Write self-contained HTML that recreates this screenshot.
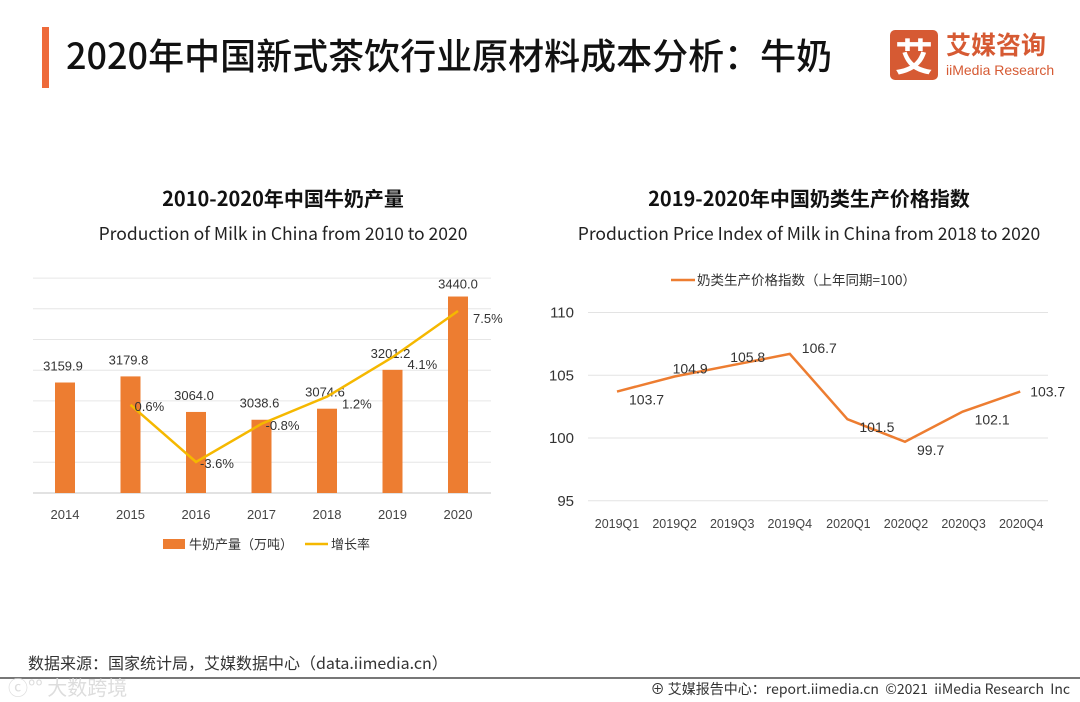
<!DOCTYPE html>
<html><head><meta charset="utf-8">
<style>
body{margin:0;width:1080px;height:702px;background:#fff;position:relative;overflow:hidden;font-family:"Liberation Sans","Noto Sans CJK SC",sans-serif;}
.abs{position:absolute;}
</style></head><body>
<div class="abs" style="left:42px;top:27px;width:7px;height:61px;background:#ee6a3a"></div>
<div class="abs" style="left:66px;top:28px;font-size:36px;font-weight:500;color:#111;font-family:'Noto Sans CJK SC',sans-serif;white-space:nowrap">2020年中国新式茶饮行业原材料成本分析：牛奶</div>
<div class="abs" style="left:890px;top:30px;width:180px;height:52px">
  <div style="position:absolute;left:0;top:0;width:48px;height:50px;background:#d65a33;border-radius:5px;color:#fff;font-size:38px;font-weight:bold;text-align:center;line-height:50px;font-family:'Noto Sans CJK SC',sans-serif">艾</div>
  <div style="position:absolute;left:56px;top:-4px;color:#d65a33;font-size:25px;font-weight:bold;font-family:'Noto Sans CJK SC',sans-serif">艾媒咨询</div>
  <div style="position:absolute;left:56px;top:32px;color:#d65a33;font-size:14px">iiMedia Research</div>
</div>

<svg class="abs" style="left:0;top:0" width="1080" height="702" font-family="Liberation Sans, Noto Sans CJK SC, sans-serif">
  <text x="283" y="206" text-anchor="middle" font-size="20" font-weight="bold" fill="#111" font-family="Noto Sans CJK SC, sans-serif">2010-2020年中国牛奶产量</text>
  <text x="283" y="240" text-anchor="middle" font-size="17.5" fill="#222" font-family="Noto Sans CJK SC, sans-serif">Production of Milk in China from 2010 to 2020</text>
  <text x="809" y="206" text-anchor="middle" font-size="20" font-weight="bold" fill="#111" font-family="Noto Sans CJK SC, sans-serif">2019-2020年中国奶类生产价格指数</text>
  <text x="809" y="240" text-anchor="middle" font-size="17.5" fill="#222" font-family="Noto Sans CJK SC, sans-serif">Production Price Index of Milk in China from 2018 to 2020</text>
  <g id="left"></g>
  <g id="right"></g>
</svg>

<div class="abs" style="left:28px;top:650px;font-size:16px;color:#333;font-family:'Noto Sans CJK SC',sans-serif">数据来源：国家统计局，艾媒数据中心（data.iimedia.cn）</div>
<div class="abs" style="left:0;top:677px;width:1080px;height:2px;background:#777"></div>
<div class="abs" style="left:8px;top:672px;font-size:20px;color:#ddd;font-family:'Noto Sans CJK SC',sans-serif">ⓒ°° 大数跨境</div>
<div class="abs" style="right:10px;top:679px;font-size:14px;color:#333;font-family:'Noto Sans CJK SC',sans-serif">⊕ 艾媒报告中心：report.iimedia.cn &nbsp;©2021 &nbsp;iiMedia Research &nbsp;Inc</div>

<script>
const years=['2014','2015','2016','2017','2018','2019','2020'];
const production=[3159.9,3179.8,3064.0,3038.6,3074.6,3201.2,3440.0];
const growthYears=['2015','2016','2017','2018','2019','2020'];
const growth=[0.6,-3.6,-0.8,1.2,4.1,7.5];
const quarters=['2019Q1','2019Q2','2019Q3','2019Q4','2020Q1','2020Q2','2020Q3','2020Q4'];
const priceIndex=[103.7,104.9,105.8,106.7,101.5,99.7,102.1,103.7];
const priceTicks=[95,100,105,110];

const NS='http://www.w3.org/2000/svg';
function mk(p,tag,a){const e=document.createElementNS(NS,tag);for(const k in a)e.setAttribute(k,a[k]);p.appendChild(e);return e;}

// left chart
const L=document.getElementById('left');
const bx=i=>65+i*65.5;
const by=v=>493-(v-2800)*0.307;
const gy=v=>413-v*13.6;
for(let k=0;k<=7;k++){const g=mk(L,'line',{x1:33,x2:491,y1:by(2800+k*100),y2:by(2800+k*100),stroke:k==0?'#d9d9d9':'#e6e6e6','stroke-width':k==0?1.5:1});

}
production.forEach((v,i)=>{
 const r=mk(L,'rect',{x:bx(i)-10,y:by(v),width:20,height:493-by(v),fill:'#ed7d31'});
 
 
 const t=mk(L,'text',{x:bx(i)-(i==6?0:2),y:by(v)-(i==6?8:12),'text-anchor':'middle','font-size':13,fill:'#333'});t.textContent=v.toFixed(1);
 
 
 const x=mk(L,'text',{x:bx(i),y:519,'text-anchor':'middle','font-size':13,fill:'#444'});x.textContent=years[i];
 
 
});
const gpts=growth.map((v,i)=>[bx(years.indexOf(growthYears[i])),gy(v)]);
const gl=mk(L,'polyline',{points:gpts.map(p=>p.join(',')).join(' '),fill:'none',stroke:'#f5b800','stroke-width':2.5});


growth.forEach((v,i)=>{const t=mk(L,'text',{x:gpts[i][0]+(i>=3?15:4),y:gpts[i][1]+(i>=3?12:6),'font-size':13,fill:'#333'});t.textContent=v.toFixed(1)+'%';
 
 });
const lg1=mk(L,'rect',{x:163,y:539,width:22,height:10,fill:'#ed7d31'});


const lt1=mk(L,'text',{x:189,y:549,'font-size':13,fill:'#333','font-family':'Noto Sans CJK SC, sans-serif'});lt1.textContent='牛奶产量（万吨）';


const lg2=mk(L,'line',{x1:305,x2:328,y1:544,y2:544,stroke:'#f5b800','stroke-width':2.5});


const lt2=mk(L,'text',{x:331,y:549,'font-size':13,fill:'#333','font-family':'Noto Sans CJK SC, sans-serif'});lt2.textContent='增长率';



// right chart
const R=document.getElementById('right');
const qx=i=>617+i*57.6;
const qy=v=>438-(v-100)*12.55;
priceTicks.forEach(v=>{const g=mk(R,'line',{x1:588,x2:1048,y1:qy(v),y2:qy(v),stroke:'#e3e3e3','stroke-width':1});
 
 
 const t=mk(R,'text',{x:574,y:qy(v)+5,'text-anchor':'end','font-size':15,fill:'#333'});t.textContent=v;
 
 });
const pl=mk(R,'polyline',{points:priceIndex.map((v,i)=>qx(i)+','+qy(v)).join(' '),fill:'none',stroke:'#ed7d31','stroke-width':2.5});


const offs=[[12,8],[-2,-8],[-2,-8],[12,-6],[12,8],[12,8],[12,8],[10,0]];
priceIndex.forEach((v,i)=>{const t=mk(R,'text',{x:qx(i)+offs[i][0],y:qy(v)+offs[i][1]+5,'font-size':14,fill:'#333'});t.textContent=v.toFixed(1);
 
 });
quarters.forEach((q,i)=>{const t=mk(R,'text',{x:qx(i)+(i>=4?1:0),y:528,'text-anchor':'middle','font-size':12.5,fill:'#444'});t.textContent=q;
 
 });
const lg3=mk(R,'line',{x1:671,x2:695,y1:280,y2:280,stroke:'#ed7d31','stroke-width':2.5});


const lt3=mk(R,'text',{x:697,y:285,'font-size':13.5,fill:'#333','font-family':'Noto Sans CJK SC, sans-serif'});lt3.textContent='奶类生产价格指数（上年同期=100）';


</script>
</body></html>
